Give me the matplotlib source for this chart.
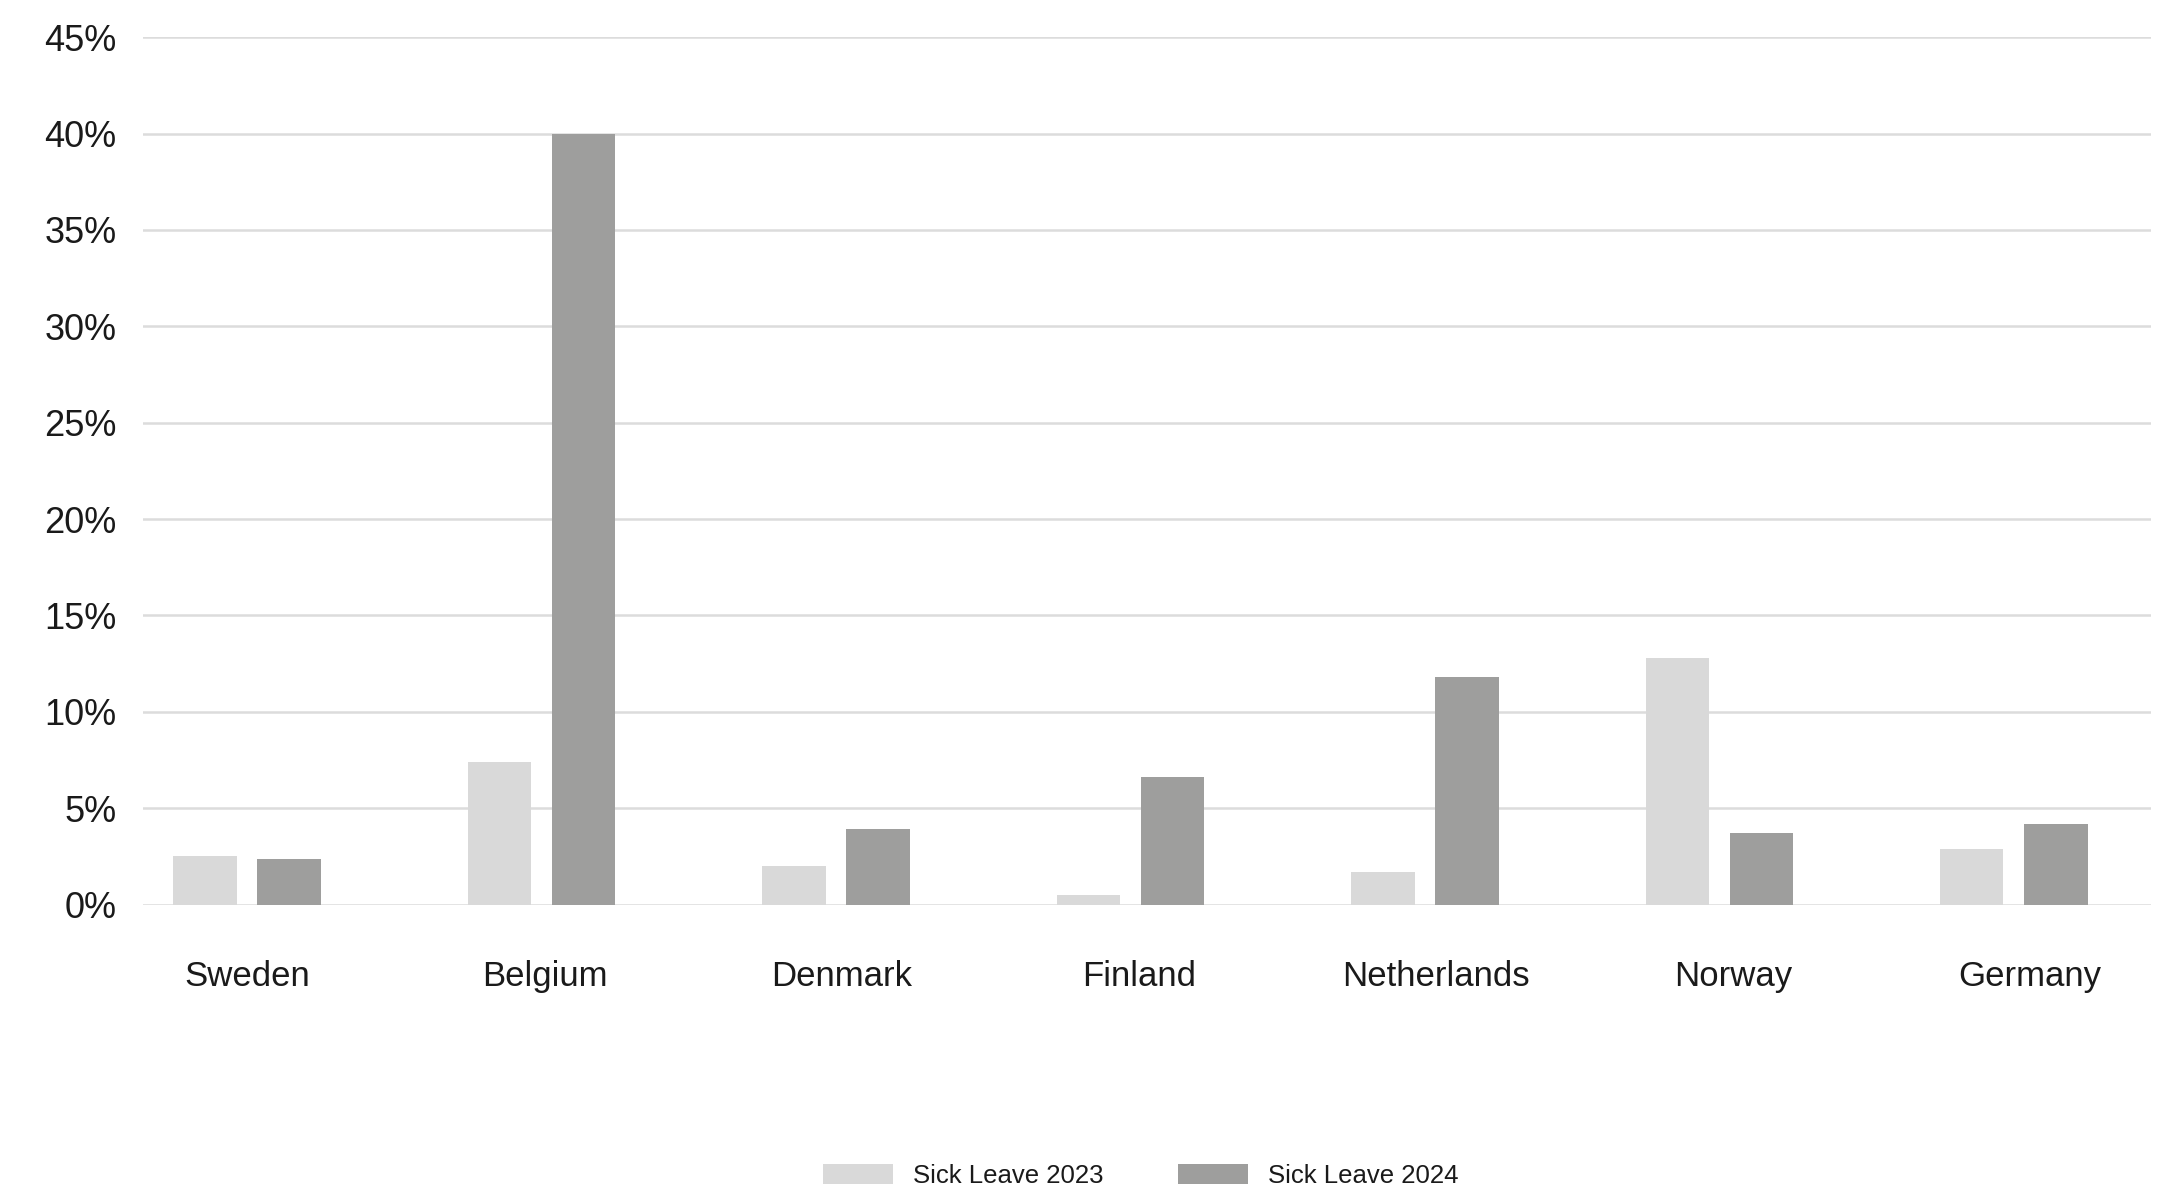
import matplotlib
matplotlib.use("Agg")
import matplotlib.pyplot as plt
import numpy as np
from matplotlib.ticker import FuncFormatter

plt.rcParams['font.family'] = ['Liberation Sans', 'DejaVu Sans']

countries = ["Sweden", "Belgium", "Denmark", "Finland", "Netherlands", "Norway", "Germany"]
sick_leave_2023 = [2.5, 7.4, 2.0, 0.5, 1.7, 12.8, 2.9]
sick_leave_2024 = [2.35, 40.0, 3.9, 6.6, 11.8, 3.7, 4.2]
series_labels = ["Sick Leave 2023", "Sick Leave 2024"]
y_ticks = [0, 5, 10, 15, 20, 25, 30, 35, 40, 45]

color_2023 = "#d9d9d9"
color_2024 = "#9e9e9d"
text_color = "#1a1a1a"

fig = plt.figure(figsize=(21.62, 11.88), dpi=100)
ax = fig.add_axes([143 / 2162, 1 - 904.6 / 1188, (2151 - 143) / 2162, (904.6 - 37.2) / 1188])

x = np.arange(len(countries))
width = 0.2155
offset = 0.143
ax.bar(x - offset, sick_leave_2023, width, color=color_2023, label=series_labels[0], zorder=3)
ax.bar(x + offset, sick_leave_2024, width, color=color_2024, label=series_labels[1], zorder=3)

ax.set_xlim(-0.3536, len(countries) - 1 + 0.466)
ax.set_ylim(0, 45)
ax.set_yticks(y_ticks)
ax.yaxis.set_major_formatter(FuncFormatter(lambda v, _: f"{v:.0f}%"))
ax.set_xticks([])

# Category labels sit on their own, slightly wider-spaced scale below the bars
label_scale = 1.0087
label_shift = 0.002
sec = ax.secondary_xaxis('bottom', functions=(lambda v: (v - label_shift) / label_scale,
                                              lambda u: u * label_scale + label_shift))
sec.set_xticks(x)
sec.set_xticklabels(countries)
sec.tick_params(axis='x', length=0, pad=40, labelsize=25, labelcolor=text_color)
sec.spines['bottom'].set_visible(False)

ax.grid(axis='y', color="#dcdcdc", linewidth=1.8, zorder=0)
ax.set_axisbelow(True)
for s in ax.spines.values():
    s.set_visible(False)

ax.tick_params(axis='y', length=0, pad=19, labelsize=26, labelcolor=text_color)

fig.legend(loc='center', bbox_to_anchor=(1141 / 2162, 1 - 1176 / 1188), ncol=2,
           frameon=False, fontsize=18.5, handlelength=2.7, handleheight=0.82,
           handletextpad=0.8, columnspacing=2.9, labelcolor=text_color)

fig.savefig("out.png", dpi=100, facecolor="white")
